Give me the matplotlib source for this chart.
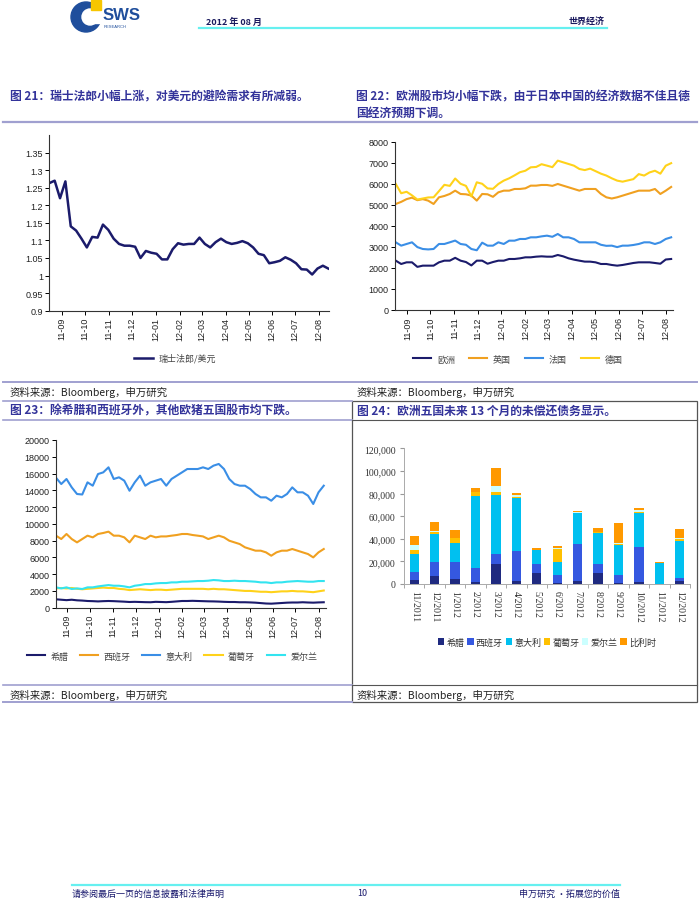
import matplotlib
matplotlib.use('Agg')
import matplotlib.pyplot as plt
import matplotlib.dates as mdates
from matplotlib.patches import Rectangle, Circle
from matplotlib.ticker import FuncFormatter, FixedLocator
import pandas as pd

plt.rcParams['font.family'] = ['Noto Sans CJK SC', 'DejaVu Sans']

# ---- data: chart 21 (weekly, from 2011-08-15) ----
chf_start = '2011-08-15'
chf_usd = [1.263, 1.270, 1.220, 1.268, 1.140, 1.128, 1.105, 1.080, 1.110, 1.108,
           1.145, 1.130, 1.105, 1.090, 1.085, 1.085, 1.082, 1.050, 1.070, 1.065,
           1.062, 1.046, 1.046, 1.075, 1.092, 1.088, 1.090, 1.090, 1.108, 1.090,
           1.080, 1.095, 1.105, 1.095, 1.090, 1.093, 1.098, 1.092, 1.080, 1.062,
           1.058, 1.035, 1.038, 1.042, 1.052, 1.045, 1.035, 1.018, 1.017, 1.003,
           1.020, 1.028, 1.020]

# ---- data: chart 22 (weekly, from 2011-08-17) ----
eq_start = '2011-08-17'
europe = [2345, 2187, 2266, 2266, 2050, 2108, 2108, 2108, 2266, 2345,
          2345, 2480, 2345, 2280, 2120, 2345, 2345, 2200, 2280, 2345,
          2345, 2425, 2425, 2456, 2504, 2504, 2535, 2551, 2535, 2535,
          2615, 2551, 2456, 2393, 2345, 2300, 2298, 2266, 2187, 2187,
          2140, 2108, 2140, 2187, 2235, 2266, 2266, 2266, 2235, 2200,
          2400, 2425]
uk = [5040, 5140, 5270, 5340, 5220, 5270, 5198, 5040, 5357, 5420,
      5515, 5673, 5515, 5500, 5440, 5200, 5515, 5500, 5380, 5594,
      5673, 5673, 5753, 5753, 5784, 5911, 5911, 5943, 5943, 5900,
      5990, 5911, 5832, 5753, 5673, 5753, 5753, 5753, 5515, 5357,
      5300, 5357, 5436, 5515, 5594, 5673, 5673, 5673, 5753, 5515,
      5673, 5850]
france = [3217, 3059, 3138, 3217, 2990, 2900, 2880, 2900, 3138, 3138,
          3217, 3300, 3138, 3100, 2900, 2840, 3200, 3059, 3059, 3217,
          3138, 3296, 3296, 3376, 3376, 3455, 3455, 3500, 3534, 3480,
          3613, 3455, 3455, 3376, 3217, 3217, 3217, 3217, 3100, 3050,
          3059, 2990, 3059, 3059, 3090, 3138, 3217, 3217, 3138, 3217,
          3376, 3455]
germany = [5990, 5550, 5620, 5450, 5250, 5300, 5350, 5357, 5650, 5950,
           5900, 6250, 6000, 5900, 5400, 6070, 6000, 5780, 5760, 5990,
           6150, 6260, 6400, 6550, 6620, 6783, 6800, 6930, 6862, 6790,
           7100, 7020, 6941, 6860, 6704, 6650, 6720, 6600, 6480, 6390,
           6260, 6150, 6100, 6160, 6220, 6460, 6390, 6540, 6620, 6480,
           6860, 6980]

# ---- data: chart 23 (weekly, from 2011-08-17) ----
greece = [1000, 950, 900, 950, 880, 850, 800, 780, 750, 780,
          800, 780, 750, 720, 680, 700, 680, 660, 650, 700,
          680, 660, 700, 750, 800, 800, 820, 800, 780, 760,
          750, 730, 700, 680, 680, 650, 650, 630, 600, 550,
          500, 480, 520, 560, 600, 620, 620, 650, 620, 600,
          630, 650]
spain = [8590, 8190, 8790, 8190, 7790, 8190, 8590, 8390, 8790, 8910,
         9070, 8590, 8590, 8390, 7790, 8590, 8390, 8190, 8590, 8390,
         8500, 8500, 8590, 8670, 8790, 8790, 8670, 8590, 8500, 8190,
         8390, 8590, 8390, 7990, 7790, 7590, 7200, 7000, 6800, 6800,
         6600, 6200, 6600, 6800, 6800, 7000, 6800, 6600, 6400, 6000,
         6600, 7000]
italy = [15500, 14750, 15350, 14350, 13560, 13500, 14950, 14550, 15940, 16140,
         16740, 15350, 15550, 15150, 13950, 14950, 15745, 14550, 14950, 15150,
         15350, 14550, 15350, 15745, 16140, 16540, 16540, 16540, 16740, 16540,
         16940, 17140, 16540, 15350, 14750, 14550, 14550, 14150, 13560, 13160,
         13160, 12760, 13360, 13160, 13560, 14350, 13760, 13760, 13360, 12370,
         13760, 14550]
portugal = [2300, 2350, 2300, 2350, 2250, 2200, 2250, 2300, 2350, 2400,
            2350, 2350, 2250, 2200, 2100, 2150, 2200, 2150, 2100, 2150,
            2150, 2100, 2150, 2200, 2250, 2250, 2250, 2250, 2250, 2200,
            2250, 2200, 2200, 2150, 2100, 2050, 2000, 2000, 1950, 1900,
            1900, 1850, 1900, 1950, 1950, 2000, 1950, 1950, 1900, 1850,
            1950, 2050]
ireland = [2425, 2300, 2425, 2230, 2300, 2230, 2425, 2425, 2540, 2620,
           2700, 2620, 2620, 2540, 2425, 2620, 2700, 2820, 2820, 2900,
           2940, 2940, 3020, 3020, 3100, 3100, 3140, 3180, 3180, 3220,
           3300, 3260, 3180, 3180, 3220, 3180, 3180, 3140, 3100, 3020,
           3020, 2940, 3020, 3020, 3100, 3140, 3180, 3140, 3100, 3100,
           3180, 3180]

# ---- data: chart 24 (debt due, stacked) ----
months24 = ['11/2011', '12/2011', '1/2012', '2/2012', '3/2012', '4/2012', '5/2012',
            '6/2012', '7/2012', '8/2012', '9/2012', '10/2012', '11/2012', '12/2012']
debt_gr = [3500, 7100, 4400, 2100, 17700, 2400, 10000, 600, 2400, 9700, 600, 1800, 0, 3000]
debt_es = [7400, 12100, 15300, 12400, 9100, 26500, 7700, 7100, 32700, 7700, 7700, 31300, 0, 2400]
debt_it = [15600, 25100, 16800, 63100, 51900, 47200, 12100, 11800, 27400, 28000, 26500, 29800, 18300, 32400]
debt_pt = [3500, 2000, 3800, 3500, 2400, 1200, 600, 11500, 600, 300, 900, 1200, 600, 2100]
debt_ie = [4700, 600, 0, 500, 5900, 1500, 0, 900, 300, 0, 600, 900, 0, 600]
debt_be = [7400, 8000, 7700, 3600, 15300, 1800, 1200, 2100, 1200, 3800, 17400, 1800, 300, 8000]

NAVY = '#1b1b6b'
ORANGE = '#f0a020'
BLUE = '#3a8ee6'
YELLOW = '#ffd21a'
CYAN = '#33e4f0'
TITLE_C = '#33339a'
RULE_C = '#a0a0d0'

W, H = 700, 903
fig = plt.figure(figsize=(7, 9.03), dpi=100)


def box(l, t, r, b):
    return [l / W, 1 - b / H, (r - l) / W, (b - t) / H]


# page furniture drawn in pixel coordinates
page = fig.add_axes([0, 0, 1, 1])
page.set_xlim(0, W)
page.set_ylim(H, 0)
page.axis('off')

# logo
page.add_patch(Circle((86, 18), 15, color='#1f4e9c'))
page.add_patch(Circle((90, 18), 8, color='white'))
page.add_patch(Rectangle((90, 12), 12, 12, color='white'))
page.add_patch(Rectangle((91, 1), 10, 10, color='#f7c600'))
page.text(103, 15, 'SWS', fontsize=12, fontweight='bold', color='#1f4e9c',
          family='Liberation Sans', va='center')
page.text(104, 27, 'RESEARCH', fontsize=3, color='#1f4e9c', family='Liberation Sans', va='center')

page.text(206, 22, '2012 年 08 月', fontsize=6.5, color='#1a1a5e', va='center', fontweight='bold')
page.text(605, 22, '世界经济', fontsize=6.5, color='#1a1a5e', va='center', ha='right', fontweight='bold')
page.plot([199, 607], [28.5, 28.5], color='#66f0f0', lw=1.6)

# titles
tkw = dict(fontsize=8.5, fontweight='bold', color=TITLE_C, va='center')
page.text(10, 97, '图 21：瑞士法郎小幅上涨，对美元的避险需求有所减弱。', **tkw)
page.text(356, 97, '图 22：欧洲股市均小幅下跌，由于日本中国的经济数据不佳且德', **tkw)
page.text(356, 113, '国经济预期下调。', **tkw)
page.text(10, 411, '图 23：除希腊和西班牙外，其他欧猪五国股市均下跌。', **tkw)
page.text(357, 411, '图 24：欧洲五国未来 13 个月的未偿还债务显示。', **tkw)

# rules
page.plot([3, 697], [123, 123], color=RULE_C, lw=1.6)
page.plot([3, 697], [383, 383], color=RULE_C, lw=1.4)
page.plot([3, 352], [402, 402], color=RULE_C, lw=1.2)
page.plot([3, 352], [421, 421], color=RULE_C, lw=1.2)
page.plot([3, 352], [686, 686], color=RULE_C, lw=1.2)
page.plot([3, 352], [703, 703], color=RULE_C, lw=1.4)
page.add_patch(Rectangle((352, 402), 345, 301, fill=False, ec='#555555', lw=0.9))
page.plot([352, 697], [421, 421], color='#555555', lw=0.8)
page.plot([352, 697], [686, 686], color='#555555', lw=0.8)

skw = dict(fontsize=7.5, color='#222222', va='center', style='italic')
page.text(10, 392, '资料来源：Bloomberg，申万研究', **skw)
page.text(357, 392, '资料来源：Bloomberg，申万研究', **skw)
page.text(10, 695, '资料来源：Bloomberg，申万研究', **skw)
page.text(357, 695, '资料来源：Bloomberg，申万研究', **skw)

# footer
page.plot([72, 620], [886, 886], color='#66f0f0', lw=1.6)
fkw = dict(fontsize=6.5, color='#1a1a6e', va='center')
page.text(72, 894, '请参阅最后一页的信息披露和法律声明', **fkw)
page.text(362, 894, '10', ha='center', **fkw)
page.text(620, 894, '申万研究 •拓展您的价值', ha='right', **fkw)


def style_ts(ax):
    for s in ['top', 'right']:
        ax.spines[s].set_visible(False)
    for s in ['left', 'bottom']:
        ax.spines[s].set_color('#333333')
        ax.spines[s].set_linewidth(0.8)
    ax.xaxis.set_major_locator(mdates.MonthLocator())
    ax.xaxis.set_major_formatter(mdates.DateFormatter('%y-%m'))
    ax.tick_params(axis='x', rotation=90, labelsize=6.5, length=3, width=0.7, pad=1.5)
    ax.tick_params(axis='y', labelsize=6.5, length=3, width=0.7, pad=1.5)
    for lab in ax.get_xticklabels() + ax.get_yticklabels():
        lab.set_family('Liberation Sans')
        lab.set_color('#222222')


def legend_at(ax, x, y, ncol, spacing, hlen=2.2):
    leg = ax.legend(loc='center', bbox_to_anchor=(x / W, 1 - y / H), bbox_transform=fig.transFigure,
                    ncol=ncol, frameon=False, fontsize=6.5, handlelength=hlen, columnspacing=spacing,
                    handletextpad=0.6)
    for t in leg.get_texts():
        t.set_color('#444444')


# chart 21
ax1 = fig.add_axes(box(49.3, 136, 329, 311.7))
d1 = pd.date_range(chf_start, periods=len(chf_usd), freq='7D')
ax1.plot(d1, chf_usd, color=NAVY, lw=1.8, label='瑞士法郎/美元')
ax1.set_xlim(d1[0], d1[-1] + pd.Timedelta(days=1))
ax1.set_ylim(0.9, 1.4)
ax1.yaxis.set_major_locator(FixedLocator([0.9, 0.95, 1.0, 1.05, 1.1, 1.15, 1.2, 1.25, 1.3, 1.35]))
ax1.yaxis.set_major_formatter(FuncFormatter(lambda v, p: f'{v:g}'))
style_ts(ax1)
legend_at(ax1, 175, 359, 1, 1)

# chart 22
ax2 = fig.add_axes(box(395, 142.7, 672.7, 311))
d2 = pd.date_range(eq_start, periods=len(europe), freq='7D')
ax2.plot(d2, europe, color=NAVY, lw=1.5, label='欧洲')
ax2.plot(d2, uk, color=ORANGE, lw=1.5, label='英国')
ax2.plot(d2, france, color=BLUE, lw=1.5, label='法国')
ax2.plot(d2, germany, color=YELLOW, lw=1.5, label='德国')
ax2.set_xlim(d2[0] - pd.Timedelta(days=1), d2[-1] + pd.Timedelta(days=2))
ax2.set_ylim(0, 8000)
ax2.set_yticks(range(0, 8001, 1000))
style_ts(ax2)
legend_at(ax2, 518, 360, 4, 1.6, 2.0)

# chart 23
ax3 = fig.add_axes(box(56, 441, 326, 608.7))
d3 = pd.date_range(eq_start, periods=len(greece), freq='7D')
ax3.plot(d3, greece, color=NAVY, lw=1.5, label='希腊')
ax3.plot(d3, spain, color=ORANGE, lw=1.5, label='西班牙')
ax3.plot(d3, italy, color=BLUE, lw=1.5, label='意大利')
ax3.plot(d3, portugal, color=YELLOW, lw=1.5, label='葡萄牙')
ax3.plot(d3, ireland, color=CYAN, lw=1.5, label='爱尔兰')
ax3.set_xlim(d3[0], d3[-1] + pd.Timedelta(days=3))
ax3.set_ylim(0, 20000)
ax3.set_yticks(range(0, 20001, 2000))
style_ts(ax3)
legend_at(ax3, 172, 657, 5, 1.3, 2.0)

# chart 24
ax4 = fig.add_axes(box(404, 449.3, 690, 585))
xs = range(len(months24))
series24 = [(debt_gr, '希腊', '#1f2a80'), (debt_es, '西班牙', '#3558e0'),
            (debt_it, '意大利', '#00c0f0'), (debt_pt, '葡萄牙', '#ffc000'),
            (debt_ie, '爱尔兰', '#ccffff'), (debt_be, '比利时', '#ff9900')]
bottom = [0] * len(months24)
for vals, name, col in series24:
    ax4.bar(xs, vals, 0.45, bottom=bottom, color=col, label=name)
    bottom = [b + v for b, v in zip(bottom, vals)]
ax4.set_xlim(-0.5, len(months24) - 0.5)
ax4.set_ylim(0, 120000)
ax4.set_yticks(range(0, 120001, 20000))
ax4.yaxis.set_major_formatter(FuncFormatter(lambda v, p: f'{int(v):,}'))
ax4.set_xticks(list(xs))
ax4.set_xticklabels(months24, rotation=-90, family='Liberation Serif', fontsize=7, color='#333333')
ax4.set_xticks([i - 0.5 for i in range(len(months24) + 1)], minor=True)
ax4.tick_params(axis='x', which='major', length=0, pad=4)
ax4.tick_params(axis='x', which='minor', length=3, color='#999999')
ax4.tick_params(axis='y', length=3, color='#999999', labelsize=7, pad=3)
for lab in ax4.get_yticklabels():
    lab.set_family('Liberation Serif')
    lab.set_color('#333333')
for s in ['top', 'right']:
    ax4.spines[s].set_visible(False)
for s in ['left', 'bottom']:
    ax4.spines[s].set_color('#aaaaaa')
    ax4.spines[s].set_linewidth(0.7)
leg4 = ax4.legend(loc='center', bbox_to_anchor=(547 / W, 1 - 643 / H), bbox_transform=fig.transFigure,
                  ncol=6, frameon=False, fontsize=6.5, handlelength=0.7, handleheight=0.7,
                  columnspacing=0.3, handletextpad=0.25)
for t in leg4.get_texts():
    t.set_color('#333333')

fig.savefig('out.png', dpi=100)
